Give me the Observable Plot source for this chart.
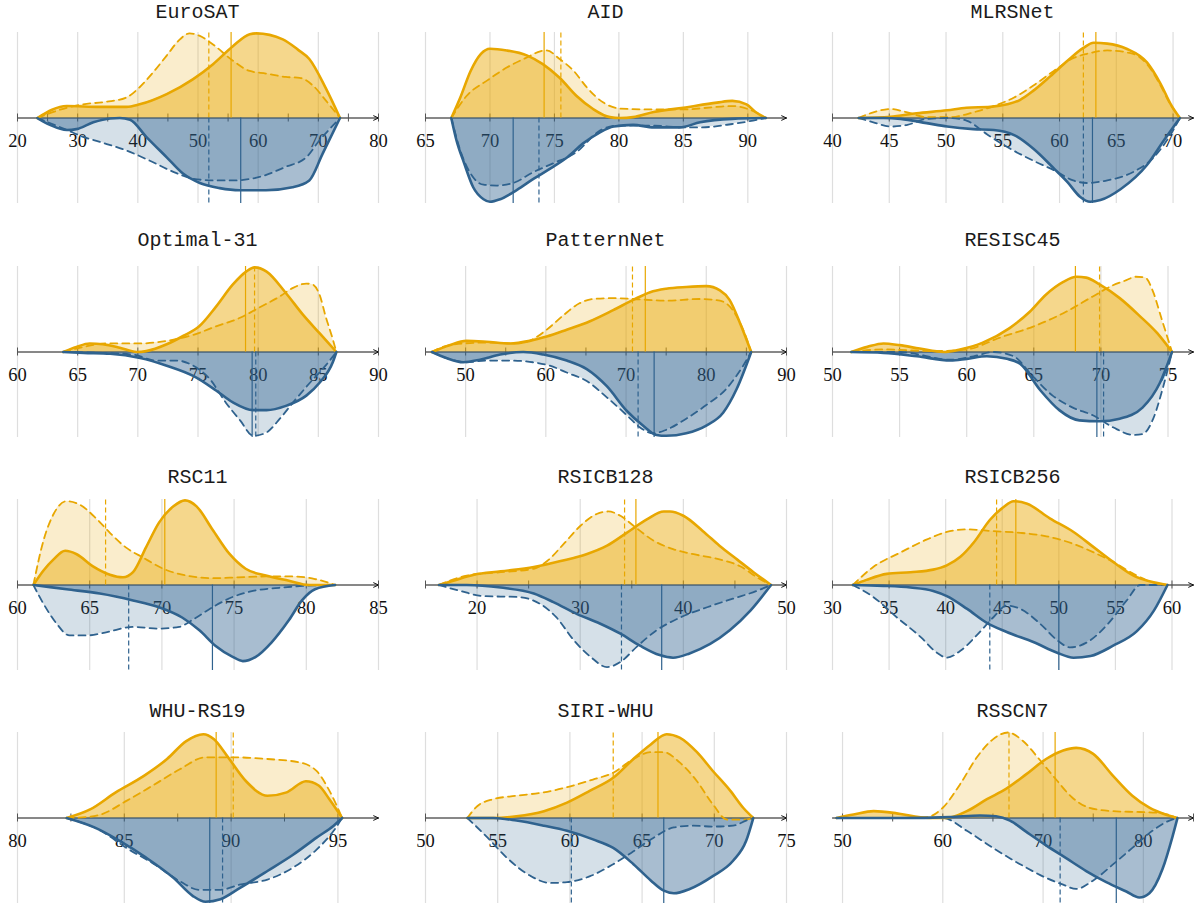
<!DOCTYPE html>
<html><head><meta charset="utf-8">
<script src="https://cdn.jsdelivr.net/npm/d3@7"></script>
<script src="https://cdn.jsdelivr.net/npm/@observablehq/plot@0.6"></script>
<style>
html,body{margin:0;padding:0;background:#fff;overflow:hidden;width:1195px;height:905px;}
#root{position:relative;width:1195px;height:905px;}
.ttl{position:absolute;font-family:"Liberation Mono","DejaVu Sans Mono",monospace;font-size:20px;line-height:24px;text-align:center;color:#1a1a1a;}
</style></head><body><div id="root"></div>
<script>
// ---------- data (x = accuracy, y = relative density; upper half positive, lower half negative) ----------
const titles = ["EuroSAT","AID","MLRSNet","Optimal-31","PatternNet","RESISC45","RSC11","RSICB128","RSICB256","WHU-RS19","SIRI-WHU","RSSCN7"];
const xDomains = [[20,80],[65,93],[40,71.8],[60,90],[45,90],[50,76.9],[60,85],[15,50],[30,61.9],[80,96.9],[50,75],[49,85]];
const tickLabels = [
  [20,30,40,50,60,70,80],[65,70,75,80,85,90],[40,45,50,55,60,65,70],[60,65,70,75,80,85,90],
  [50,60,70,80,90],[50,55,60,65,70,75],[60,65,70,75,80,85],[20,30,40,50],
  [30,35,40,45,50,55,60],[80,85,90,95],[50,55,60,65,70,75],[50,60,70,80]];
const minorSteps = [5,5,5,5,5,5,5,5,5,2.5,5,5];

const eurosatYS = [[23.3,0],[28.2,0.14],[33.7,0.13],[38.1,0.13],[40.3,0.16],[44.8,0.28],[49.2,0.455],[52.5,0.63],[55.8,0.84],[58.6,0.98],[59.7,0.99],[64.1,0.92],[66.6,0.8],[68.5,0.69],[71.3,0.34],[73.6,0]];
const eurosatYD = [[23.3,0],[28.2,0.12],[30.9,0.16],[34.8,0.19],[38.1,0.24],[40.3,0.36],[42.5,0.53],[44.8,0.73],[47,0.92],[48.6,0.99],[50.3,0.96],[52.5,0.86],[55.8,0.67],[58.6,0.55],[61.3,0.52],[64.6,0.48],[66.9,0.47],[69.1,0.38],[71.3,0.2],[73.6,0]];
const eurosatBS = [[23.3,0],[25.4,-0.08],[28.2,-0.14],[29.8,-0.13],[32.6,-0.05],[35.4,-0.005],[37,0],[38.7,-0.02],[41.4,-0.22],[44.8,-0.46],[47.5,-0.65],[50.3,-0.76],[53.6,-0.82],[56.9,-0.845],[61.3,-0.845],[65.7,-0.81],[68.5,-0.73],[70.7,-0.42],[73.6,0]];
const eurosatBD = [[23.3,0],[28.2,-0.14],[30.9,-0.22],[33.7,-0.28],[38.1,-0.38],[42,-0.5],[45.9,-0.63],[49.2,-0.71],[52.5,-0.73],[55.8,-0.73],[60.2,-0.69],[64.6,-0.57],[68,-0.46],[70.2,-0.26],[72.4,-0.09],[73.6,0]];

const aidYS = [[67,0],[67.7,0.24],[68.5,0.55],[69.3,0.75],[70,0.81],[71.3,0.79],[72.9,0.73],[74.1,0.63],[75.4,0.47],[76.7,0.26],[78,0.105],[79.3,0.01],[80.1,0],[81.1,0.01],[82.7,0.07],[85,0.12],[87.6,0.18],[88.8,0.2],[89.9,0.16],[90.6,0.07],[91.4,0]];
const aidYD = [[67,0],[68.2,0.26],[69.8,0.44],[71.3,0.59],[72.9,0.71],[73.9,0.78],[74.4,0.79],[75.4,0.69],[76.5,0.55],[77.5,0.36],[78.8,0.18],[80.1,0.11],[82.7,0.1],[85,0.1],[87.6,0.13],[88.8,0.14],[90.1,0.1],[91.4,0]];
const aidBS = [[67,0],[67.4,-0.26],[68,-0.53],[68.7,-0.81],[69.5,-0.95],[70,-0.98],[70.8,-0.95],[72.1,-0.84],[73.4,-0.71],[74.7,-0.59],[76,-0.46],[77.2,-0.3],[78.5,-0.17],[79.6,-0.1],[81.1,-0.08],[82.7,-0.11],[84.7,-0.11],[86.3,-0.05],[88.8,-0.01],[91.4,0]];
const aidBD = [[67,0],[67.7,-0.38],[68.5,-0.65],[69.5,-0.78],[70.5,-0.79],[71.8,-0.76],[73.4,-0.63],[74.9,-0.53],[76.7,-0.4],[78.5,-0.15],[79.8,-0.09],[82.7,-0.09],[85,-0.11],[86.3,-0.11],[88.8,-0.07],[90.4,-0.03],[91.4,0]];

const mlrsYS = [[42.3,0],[45.1,0.015],[47.4,0.055],[50.1,0.09],[51.8,0.12],[53.9,0.13],[55.4,0.16],[56.5,0.21],[57.7,0.32],[59.2,0.49],[60.7,0.67],[62.1,0.82],[63,0.88],[64.2,0.87],[65.9,0.81],[67.7,0.65],[68.9,0.4],[69.8,0.16],[70.6,0]];
const mlrsYD = [[42.3,0],[43.6,0.066],[45.1,0.105],[46.6,0.066],[48.3,0.01],[50.4,0.01],[52.4,0.066],[54.2,0.14],[56,0.24],[57.7,0.38],[59.5,0.55],[61.2,0.7],[62.4,0.75],[64.2,0.79],[66.5,0.75],[67.7,0.63],[68.9,0.38],[69.8,0.15],[70.6,0]];
const mlrsBS = [[42.3,0],[44.5,0],[46,-0.01],[48.3,-0.06],[50.1,-0.1],[52.4,-0.13],[54.2,-0.14],[56,-0.2],[57.7,-0.36],[59.5,-0.59],[60.7,-0.75],[61.8,-0.92],[62.7,-0.98],[63.6,-0.96],[65.4,-0.83],[67.7,-0.55],[69.2,-0.26],[70.6,0]];
const mlrsBD = [[42.3,0],[43.6,-0.05],[45.1,-0.1],[46.6,-0.08],[48.3,-0.01],[50.4,0],[51.8,-0.03],[53.6,-0.19],[55.4,-0.34],[57.7,-0.5],[59.5,-0.61],[61.2,-0.73],[62.4,-0.76],[64.2,-0.73],[66.5,-0.63],[68.3,-0.46],[69.8,-0.19],[70.6,0]];

const optYS = [[63.8,0],[64.9,0.06],[66,0.1],[67.1,0.09],[68.5,0.05],[69.9,0],[70.7,0.01],[72.4,0.09],[73.8,0.19],[75.1,0.3],[76.5,0.53],[77.9,0.79],[79,0.94],[79.7,0.99],[80.7,0.94],[82.3,0.69],[83.7,0.44],[85.1,0.22],[86.5,0]];
const optYD = [[63.8,0],[65.5,0.06],[67.4,0.1],[70.2,0.1],[72.4,0.13],[74.6,0.2],[76.5,0.3],[78.5,0.4],[80.1,0.52],[81.8,0.65],[82.9,0.75],[84,0.8],[84.5,0.79],[85.1,0.67],[85.6,0.42],[86.2,0.15],[86.5,0]];
const optBS = [[63.8,0],[65.5,-0.01],[67.7,-0.02],[70.2,-0.07],[72.4,-0.16],[74.6,-0.28],[76.5,-0.45],[77.9,-0.59],[79.6,-0.68],[80.7,-0.68],[82.3,-0.63],[84,-0.51],[85.1,-0.36],[86.2,-0.12],[86.5,0]];
const optBD = [[63.8,0],[66.9,-0.01],[69.6,-0.03],[71.5,-0.1],[73.2,-0.1],[74.6,-0.16],[76,-0.32],[77.3,-0.59],[78.5,-0.8],[79.6,-0.98],[80.7,-0.94],[81.8,-0.78],[82.9,-0.59],[84.3,-0.36],[85.6,-0.16],[86.5,0]];

const patYS = [[45.8,0],[48,0.08],[50.1,0.13],[52.6,0.12],[55.5,0.1],[58,0.13],[60.1,0.18],[62.6,0.26],[65.5,0.36],[68.4,0.49],[70.9,0.61],[73,0.7],[75,0.74],[77.5,0.76],[80,0.77],[81.7,0.72],[82.9,0.61],[84.2,0.34],[85.6,0]];
const patYD = [[45.8,0],[48,0.08],[52.2,0.11],[56.4,0.1],[58.4,0.15],[60.1,0.26],[62.2,0.43],[64.2,0.57],[65.9,0.62],[68.4,0.63],[70.9,0.62],[75,0.6],[79.2,0.62],[81.7,0.6],[83.3,0.49],[84.6,0.26],[85.6,0]];
const patBS = [[45.8,0],[47.6,-0.07],[49.7,-0.12],[51.8,-0.09],[54.3,-0.03],[57.2,0],[59.7,-0.03],[62.6,-0.1],[65.1,-0.2],[67.6,-0.4],[70.1,-0.69],[72.1,-0.86],[73.8,-0.97],[75,-0.98],[77.5,-0.95],[80,-0.86],[82.1,-0.71],[83.8,-0.43],[85.6,0]];
const patBD = [[45.8,0],[47.6,-0.07],[50.1,-0.12],[52.6,-0.1],[55.5,-0.1],[58.4,-0.12],[60.5,-0.16],[62.6,-0.24],[65.1,-0.34],[67.6,-0.53],[70.1,-0.74],[71.7,-0.88],[73.4,-0.95],[75,-0.91],[77.5,-0.78],[80,-0.62],[82.5,-0.43],[84.6,-0.16],[85.6,0]];

const resYS = [[51.4,0],[52.6,0.06],[53.8,0.1],[55,0.08],[56.5,0.04],[58.3,0],[59.5,0.03],[61.2,0.11],[63.2,0.28],[64.7,0.47],[65.9,0.67],[67.2,0.82],[68.2,0.88],[68.9,0.87],[69.9,0.79],[71.4,0.63],[72.9,0.42],[74.2,0.22],[75.3,0]];
const resYD = [[51.4,0],[53.8,0.03],[57.5,0.01],[60,0.03],[62.5,0.17],[65,0.3],[67.4,0.47],[69.4,0.65],[70.9,0.78],[71.9,0.84],[72.6,0.88],[73.3,0.87],[73.9,0.7],[74.5,0.4],[75,0.15],[75.3,0]];
const resBS = [[51.4,0],[53.8,-0.01],[56.3,-0.05],[58.8,-0.1],[60,-0.08],[61.5,-0.05],[63,-0.08],[64,-0.14],[65.5,-0.45],[66.9,-0.68],[68.4,-0.8],[69.9,-0.81],[71.4,-0.78],[73.1,-0.65],[74.4,-0.36],[75.3,0]];
const resBD = [[51.4,0],[55,0],[58.8,-0.09],[60.5,-0.05],[62,0],[63.5,-0.05],[64.9,-0.28],[66.4,-0.51],[67.9,-0.65],[69.4,-0.74],[70.9,-0.88],[72.4,-0.97],[73.1,-0.96],[73.9,-0.78],[74.6,-0.43],[75.3,0]];

const rscYS = [[61.1,0],[61.8,0.17],[62.5,0.3],[63.3,0.4],[64.1,0.36],[65.2,0.22],[66.4,0.12],[67.3,0.09],[68,0.15],[68.9,0.44],[69.8,0.73],[70.8,0.92],[71.6,0.99],[72.4,0.92],[73.5,0.65],[74.7,0.36],[75.8,0.19],[77.2,0.11],[78.8,0.05],[80.2,0],[82,0]];
const rscYD = [[61.1,0],[61.8,0.52],[62.5,0.83],[63.4,0.98],[64.3,0.94],[65.5,0.77],[66.4,0.61],[67.5,0.44],[68.7,0.32],[70.1,0.19],[71.7,0.11],[73.5,0.08],[75.3,0.09],[77.2,0.1],[79,0.1],[80.6,0.07],[82,0]];
const rscBS = [[61.1,0],[63.4,-0.05],[65.7,-0.1],[68,-0.18],[69.8,-0.26],[71.4,-0.38],[72.6,-0.53],[73.7,-0.71],[74.9,-0.84],[75.6,-0.89],[76.5,-0.84],[77.6,-0.67],[78.8,-0.41],[79.7,-0.18],[80.6,-0.05],[82,0]];
const rscBD = [[61.1,0],[61.8,-0.22],[62.7,-0.45],[63.6,-0.59],[64.8,-0.59],[66.2,-0.55],[68,-0.49],[69.8,-0.51],[71.2,-0.49],[72.1,-0.41],[73.5,-0.26],[74.9,-0.14],[76.3,-0.07],[78.3,-0.03],[79.9,-0.01],[82,0]];

const r128YS = [[16.3,0],[17.7,0.05],[19.7,0.12],[22.3,0.16],[25.5,0.21],[28.1,0.28],[30.6,0.36],[32.6,0.46],[34.5,0.61],[36.5,0.77],[38.1,0.86],[38.7,0.86],[40,0.81],[41.9,0.63],[43.5,0.46],[45.2,0.3],[46.8,0.15],[48.5,0]];
const r128YD = [[16.3,0],[19,0.11],[22.3,0.15],[25.5,0.19],[26.8,0.28],[28.4,0.48],[30,0.69],[31.6,0.83],[32.7,0.86],[33.9,0.81],[35.2,0.69],[37.1,0.52],[39,0.42],[41,0.36],[43.5,0.3],[45.5,0.22],[47.4,0.07],[48.5,0]];
const r128BS = [[16.3,0],[19,0],[22.3,-0.03],[25.5,-0.1],[27.4,-0.2],[29.7,-0.34],[31.9,-0.45],[33.9,-0.57],[35.8,-0.71],[37.7,-0.82],[39,-0.85],[40.6,-0.8],[42.6,-0.69],[44.5,-0.53],[46.5,-0.3],[48.5,0]];
const r128BD = [[16.3,0],[18.4,-0.07],[20.6,-0.13],[23.9,-0.14],[26.1,-0.22],[27.7,-0.38],[29.4,-0.65],[31,-0.84],[32.6,-0.96],[33.9,-0.9],[35.5,-0.72],[37.4,-0.53],[39.7,-0.38],[42.3,-0.26],[44.8,-0.16],[47.1,-0.07],[48.5,0]];

const r256YS = [[31.8,0],[33,0.06],[34.8,0.13],[36.9,0.15],[38.9,0.18],[40.1,0.23],[41.3,0.33],[42.5,0.5],[43.9,0.76],[45.1,0.91],[46,0.98],[47.2,0.95],[49.2,0.78],[51.3,0.62],[53.1,0.44],[54.8,0.27],[56.6,0.11],[58.1,0.04],[59.6,0]];
const r256YD = [[31.8,0],[33.6,0.21],[36,0.38],[38.3,0.53],[40.1,0.62],[41.9,0.65],[44.2,0.63],[46.6,0.61],[48.9,0.57],[51.3,0.48],[53.1,0.38],[54.8,0.27],[56.6,0.13],[58.1,0.04],[59.6,0]];
const r256BS = [[31.8,0],[34.5,-0.01],[36.9,-0.03],[38.9,-0.07],[40.1,-0.13],[41.9,-0.28],[43.6,-0.44],[45.4,-0.55],[47.8,-0.67],[49.8,-0.79],[51.3,-0.85],[52.8,-0.83],[54.8,-0.71],[56.9,-0.54],[58.4,-0.3],[59.6,0]];
const r256BD = [[31.8,0],[33.6,-0.14],[35.7,-0.38],[37.8,-0.61],[39.2,-0.79],[40.1,-0.85],[41.3,-0.77],[42.8,-0.58],[44.2,-0.38],[45.4,-0.24],[46.6,-0.28],[48.4,-0.46],[49.8,-0.64],[51,-0.73],[52.5,-0.67],[54.3,-0.46],[56,-0.18],[57.2,0],[59.6,0]];

const whuYS = [[82.3,0],[83.4,0.1],[84.6,0.3],[85.9,0.49],[87,0.69],[87.9,0.9],[88.7,0.98],[89.2,0.92],[89.8,0.73],[90.7,0.43],[91.7,0.26],[92.6,0.3],[93.5,0.43],[94.1,0.38],[94.6,0.22],[95.2,0]];
const whuYD = [[82.3,0],[83.2,0.01],[83.9,0.04],[85.1,0.2],[86.4,0.39],[87.6,0.57],[88.8,0.71],[90.1,0.71],[91.7,0.69],[93.2,0.65],[94,0.55],[94.6,0.32],[95.2,0]];
const whuBS = [[82.3,0],[83.6,-0.11],[84.8,-0.27],[86,-0.46],[87.3,-0.7],[88.2,-0.91],[88.8,-0.98],[89.5,-0.95],[90.4,-0.82],[91.7,-0.62],[92.9,-0.43],[94,-0.23],[94.8,-0.09],[95.2,0]];
const whuBD = [[82.3,0],[83.9,-0.15],[85.1,-0.35],[86.4,-0.54],[87.6,-0.74],[88.5,-0.84],[89.5,-0.84],[90.4,-0.78],[91.7,-0.72],[92.9,-0.58],[94,-0.37],[94.8,-0.15],[95.2,0]];

const siriYS = [[52.9,0],[54.7,0],[56.3,0.02],[58.2,0.08],[59.8,0.18],[61.4,0.32],[63,0.47],[64.4,0.69],[65.6,0.86],[66.7,0.98],[67.6,0.94],[68.8,0.77],[69.9,0.55],[71.1,0.32],[72,0.12],[72.7,0]];
const siriYD = [[52.9,0],[53.6,0.14],[54.7,0.22],[56.3,0.26],[58.2,0.3],[59.8,0.36],[61.6,0.45],[63,0.53],[64.4,0.69],[65.6,0.77],[66.5,0.77],[67.6,0.65],[68.8,0.43],[69.9,0.16],[70.9,-0.02],[72,-0.02],[72.7,0]];
const siriBS = [[52.9,0],[54.7,0],[56.3,-0.03],[58.2,-0.09],[59.8,-0.15],[61.6,-0.25],[63,-0.35],[64.4,-0.54],[65.6,-0.73],[66.5,-0.85],[67.2,-0.88],[68.3,-0.83],[69.9,-0.68],[71.3,-0.5],[72.2,-0.27],[72.7,0]];
const siriBD = [[52.9,0],[54.3,-0.23],[55.6,-0.46],[57.3,-0.68],[58.6,-0.76],[59.8,-0.75],[61.4,-0.68],[63,-0.54],[64.4,-0.39],[65.8,-0.23],[67.2,-0.11],[68.5,-0.09],[69.9,-0.1],[71.3,-0.09],[72.2,-0.03],[72.7,0]];

const rsscYS = [[49.4,0],[51.1,0.04],[53.1,0.08],[55.1,0.06],[57.1,0.02],[59,0],[60.4,0],[62.4,0.08],[64.4,0.22],[66.3,0.34],[68.3,0.51],[70.3,0.69],[72,0.79],[73.3,0.82],[75,0.75],[77,0.49],[78.9,0.26],[80.6,0.12],[82.2,0.04],[83.4,0]];
const rsscYD = [[49.4,0],[52.4,0],[55.7,0],[58.4,0.01],[60,0.12],[61.7,0.39],[63.4,0.71],[65,0.92],[66.5,1.0],[68,0.9],[69.6,0.69],[71.3,0.45],[72.9,0.24],[74.6,0.12],[76.9,0.08],[79.6,0.07],[81.6,0.06],[83.4,0]];
const rsscBS = [[49.4,0],[55.7,0],[60.7,0.01],[63.7,0.03],[65.3,0.02],[66.7,-0.03],[68.3,-0.16],[70.3,-0.32],[72.3,-0.47],[74.3,-0.62],[76.3,-0.75],[78.3,-0.86],[79.6,-0.93],[80.6,-0.88],[81.9,-0.6],[82.9,-0.22],[83.4,0]];
const rsscBD = [[49.4,0],[55.7,0],[60,0],[62.4,-0.15],[65,-0.35],[67.7,-0.54],[70.3,-0.7],[72,-0.78],[73.3,-0.83],[75,-0.73],[77,-0.54],[78.9,-0.35],[80.9,-0.15],[82.6,-0.03],[83.4,0]];

// means (vertical lines): yellow solid, yellow dashed, blue solid, blue dashed
const meanYS = [55.5, 74.2, 63.2, 78.95, 72.4, 68.1, 70.2, 35.4, 46.2, 89.3, 66.1, 71.2];
const meanYD = [51.8, 75.5, 62.1, 79.7, 70.8, 69.9, 66.1, 34.3, 44.5, 90.1, 63.0, 66.6];
const meanBS = [57.1, 71.8, 62.9, 79.5, 73.5, 69.7, 73.5, 37.9, 50.0, 89.0, 66.5, 77.3];
const meanBD = [51.8, 73.8, 62.1, 79.8, 71.5, 70.2, 67.7, 34.0, 43.9, 89.6, 60.1, 71.7];

const curves = [
  [eurosatYS, eurosatYD, eurosatBS, eurosatBD],
  [aidYS, aidYD, aidBS, aidBD],
  [mlrsYS, mlrsYD, mlrsBS, mlrsBD],
  [optYS, optYD, optBS, optBD],
  [patYS, patYD, patBS, patBD],
  [resYS, resYD, resBS, resBD],
  [rscYS, rscYD, rscBS, rscBD],
  [r128YS, r128YD, r128BS, r128BD],
  [r256YS, r256YD, r256BS, r256BD],
  [whuYS, whuYD, whuBS, whuBD],
  [siriYS, siriYD, siriBS, siriBD],
  [rsscYS, rsscYD, rsscBS, rsscBD]
];

// ---------- layout & style ----------
const colLeft = [0, 408, 815];
const rowAxis = [117, 351, 584, 817];
const rowTitle = [13, 241, 478, 712];
const W = 381, ML = 17, MR = 3, MT = 4, MB = 5, FH = 171;
const yDomain = [-1, 1];
const YEL = "#e8a700", BLU = "#2f628e";
const curve = "monotone-x";

const root = document.getElementById("root");

function panel(i) {
  const [x0, x1] = xDomains[i];
  const [ys, yd, bs, bd] = curves[i];
  const step = minorSteps[i];
  const minor = d3.range(Math.ceil(x0 / step - 1e-9) * step, x1 + 1e-9, step);
  const X = d => d[0], Y = d => d[1];
  const area = (data, color, op) => Plot.areaY(data, {x: X, y1: 0, y2: Y, curve, fill: color, fillOpacity: op});
  const line = (data, color, w, dash) => Plot.line(data, {x: X, y: Y, curve, stroke: color, strokeWidth: w, strokeDasharray: dash});
  const mean = (v, color, top, dash) => Plot.ruleX([v], {x: d => d, y1: 0, y2: top, stroke: color, strokeWidth: 1.2, strokeDasharray: dash});
  return Plot.plot({
    width: W, height: FH + MT + MB,
    marginLeft: ML, marginRight: MR, marginTop: MT, marginBottom: MB,
    x: {domain: [x0, x1], axis: null},
    y: {domain: yDomain, axis: null},
    style: {background: "transparent", overflow: "visible"},
    marks: [
      Plot.ruleX(tickLabels[i], {x: d => d, stroke: "#dedede", strokeWidth: 1.2}),
      Plot.text(tickLabels[i], {x: d => d, y: 0, text: d => String(d), dy: 23, fontSize: 18.5, fontFamily: "Liberation Serif, DejaVu Serif, serif", fill: "#111"}),
      Plot.arrow([0], {x1: () => x0, x2: () => x1, y1: 0, y2: 0, stroke: "#111", strokeWidth: 1, headLength: 8, headAngle: 50}),
      Plot.ruleX(minor, {x: d => d, y1: 0, y2: 0, insetTop: -4, insetBottom: -4, stroke: "#555", strokeWidth: 1}),
      area(yd, YEL, 0.2),
      area(ys, YEL, 0.45),
      area(bd, BLU, 0.2),
      area(bs, BLU, 0.42),
      line(yd, YEL, 1.8, "7,5"),
      line(bd, BLU, 1.8, "7,5"),
      line(ys, YEL, 2.6),
      line(bs, BLU, 2.6),
      mean(meanYD[i], YEL, yDomain[1], "5,3"),
      mean(meanYS[i], YEL, yDomain[1]),
      mean(meanBD[i], BLU, yDomain[0], "5,3"),
      mean(meanBS[i], BLU, yDomain[0])
    ]
  });
}

titles.forEach((t, i) => {
  const r = Math.floor(i / 3), c = i % 3;
  const svg = panel(i);
  svg.style.position = "absolute";
  svg.style.left = colLeft[c] + "px";
  svg.style.top = (rowAxis[r] - MT - FH / 2) + "px";
  root.appendChild(svg);
  const d = document.createElement("div");
  d.className = "ttl";
  d.textContent = t;
  d.style.left = (colLeft[c] + ML) + "px";
  d.style.width = (W - ML - MR) + "px";
  d.style.top = (rowTitle[r] - 12) + "px";
  root.appendChild(d);
});
</script></body></html>
